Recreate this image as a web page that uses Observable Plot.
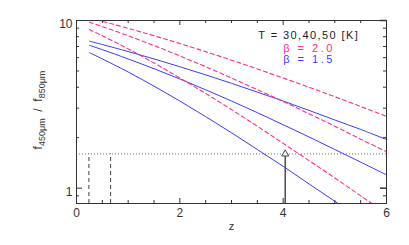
<!DOCTYPE html>
<html><head><meta charset="utf-8">
<script src="https://cdn.jsdelivr.net/npm/d3@7"></script>
<script src="https://cdn.jsdelivr.net/npm/@observablehq/plot@0.6"></script>
<style>body{margin:0;background:#fff}</style>
</head><body><div id="chart"></div>
<script>
// redshift grid
const zValues = [0.25, 0.5, 1, 1.5, 2, 2.5, 3, 3.5, 4, 4.5, 5, 5.5, 6];
// flux ratio f450/f850, beta = 1.5 (blue, solid), T = 50, 40, 30 K
const beta15_T50 = [7.53, 7.19, 6.53, 5.90, 5.30, 4.74, 4.22, 3.74, 3.31, 2.91, 2.55, 2.24, 1.95];
const beta15_T40 = [7.11, 6.70, 5.90, 5.16, 4.48, 3.86, 3.31, 2.82, 2.39, 2.02, 1.70, 1.43, 1.20];
const beta15_T30 = [6.43, 5.90, 4.93, 4.06, 3.31, 2.67, 2.14, 1.70, 1.35, 1.06, 0.835, 0.655, 0.513];
// beta = 2.0 (pink, dashed)
const beta20_T50 = [10.35, 9.89, 8.98, 8.11, 7.29, 6.52, 5.80, 5.14, 4.54, 4.00, 3.51, 3.07, 2.68];
const beta20_T40 = [9.77, 9.20, 8.11, 7.09, 6.15, 5.30, 4.54, 3.87, 3.29, 2.78, 2.34, 1.96, 1.65];
const beta20_T30 = [8.83, 8.11, 6.77, 5.58, 4.54, 3.67, 2.94, 2.34, 1.85, 1.46, 1.15, 0.900, 0.705];

// annotations
const thresholdRatio = [1.6];
const dashedZ = [0.24, 0.66];
const arrowZ = [4.04];

// ticks
const xMajor = [0, 2, 4, 6];
const xMinor = [0.5, 1, 1.5, 2.5, 3, 3.5, 4.5, 5, 5.5];
const yMajor = [1, 10];
const yMinor = [0.9, 2, 3, 4, 5, 6, 7, 8, 9];

// legend lines
const legendTemp = ["T = 30,40,50 [K]"];
const legendBeta20 = ["β = 2.0"];
const legendBeta15 = ["β = 1.5"];

const blue = "#3c3cff";
const pink = "#ff2d8c";
const axisColor = "#333";

function series(vals, name, beta) {
  return zValues.map((z, i) => ({z, r: vals[i], name, beta}));
}
const blueData = [
  ...series(beta15_T50, "T50", 1.5),
  ...series(beta15_T40, "T40", 1.5),
  ...series(beta15_T30, "T30", 1.5)
];
const pinkData = [
  ...series(beta20_T50, "T50", 2.0),
  ...series(beta20_T40, "T40", 2.0),
  ...series(beta20_T30, "T30", 2.0)
];

const W = 409, H = 245, mL = 76, mR = 23, mT = 20, mB = 42;
const fw = W - mL - mR, fh = H - mT - mB;

const chart = Plot.plot({
  width: W, height: H,
  marginLeft: mL, marginRight: mR, marginTop: mT, marginBottom: mB,
  style: {fontFamily: "'Liberation Sans', Arial, sans-serif", fontSize: "12px", background: "white", color: axisColor},
  x: {domain: [0, 6], axis: null},
  y: {type: "log", domain: [0.81, 10], axis: null},
  marks: [
    Plot.ruleY(thresholdRatio, {stroke: "#777", strokeDasharray: "1,2", strokeWidth: 1}),
    Plot.ruleX(dashedZ, {y1: 0.81, y2: thresholdRatio[0], stroke: "#444", strokeDasharray: "4,3", strokeWidth: 1}),
    Plot.ruleX(arrowZ, {y1: 0.81, y2: 1.55, stroke: "#555", strokeWidth: 1.6}),
    Plot.dot(arrowZ, {x: d => d, y: thresholdRatio[0], symbol: "triangle", r: 2.6, fill: "white", stroke: "#444", strokeWidth: 1}),
    Plot.line(blueData, {x: "z", y: "r", z: "name", stroke: blue, strokeWidth: 1, curve: "catmull-rom", clip: true}),
    Plot.line(pinkData, {x: "z", y: "r", z: "name", stroke: pink, strokeWidth: 1.1, strokeDasharray: "4,3", curve: "catmull-rom", clip: true}),
    Plot.frame({stroke: axisColor, strokeWidth: 1}),
    Plot.ruleX(xMajor, {x: d => d, insetTop: fh - 5, stroke: axisColor}),
    Plot.ruleX(xMinor, {x: d => d, insetTop: fh - 3, stroke: axisColor}),
    Plot.ruleX(xMajor, {x: d => d, insetBottom: fh - 5, stroke: axisColor}),
    Plot.ruleX(xMinor, {x: d => d, insetBottom: fh - 3, stroke: axisColor}),
    Plot.ruleY(yMajor, {y: d => d, insetRight: fw - 6, stroke: axisColor}),
    Plot.ruleY(yMinor, {y: d => d, insetRight: fw - 3, stroke: axisColor}),
    Plot.ruleY(yMajor, {y: d => d, insetLeft: fw - 6, stroke: axisColor, strokeWidth: 1.5}),
    Plot.ruleY(yMinor, {y: d => d, insetLeft: fw - 3, stroke: axisColor}),
    Plot.text(xMajor, {x: d => d, frameAnchor: "bottom", dy: 13.5, text: d => String(d), fill: axisColor, fontSize: 12}),
    Plot.text(yMajor, {y: d => d, frameAnchor: "left", dx: -4, dy: 3.5, textAnchor: "end", text: d => String(d), fill: axisColor, fontSize: 12}),
    Plot.text(["z"], {x: 3, frameAnchor: "bottom", dy: 26, text: d => d, fill: axisColor, fontSize: 11}),
    Plot.text(legendTemp, {x: 3.52, y: 8.14, text: d => d, textAnchor: "start", fill: "#222", fontSize: 11}),
    Plot.text(legendBeta20, {x: 4.0, y: 6.78, text: d => d, textAnchor: "start", fill: pink, fontSize: 11}),
    Plot.text(legendBeta15, {x: 4.0, y: 5.83, text: d => d, textAnchor: "start", fill: blue, fontSize: 11})
  ]
});

document.getElementById("chart").appendChild(chart);

// spread the legend letters like the reference
d3.select(chart).selectAll("text").filter(function() {
  const t = this.textContent;
  return t === legendTemp[0] || t === legendBeta20[0] || t === legendBeta15[0];
}).style("letter-spacing", function() { return this.textContent === legendTemp[0] ? "1.4px" : "2.5px"; });

// y-axis label with subscripts
const svg = d3.select(chart);
const lab = svg.append("text")
  .attr("transform", "translate(42,110) rotate(-90)")
  .attr("text-anchor", "middle")
  .attr("fill", axisColor)
  .attr("font-family", "'Liberation Sans', Arial, sans-serif")
  .attr("font-size", 12);
lab.append("tspan").text("f");
lab.append("tspan").attr("dy", 3).attr("font-size", 9).text("450μm");
lab.append("tspan").attr("dy", -3).text("  /  f");
lab.append("tspan").attr("dy", 3).attr("font-size", 9).text("850μm");
</script>
</body></html>
